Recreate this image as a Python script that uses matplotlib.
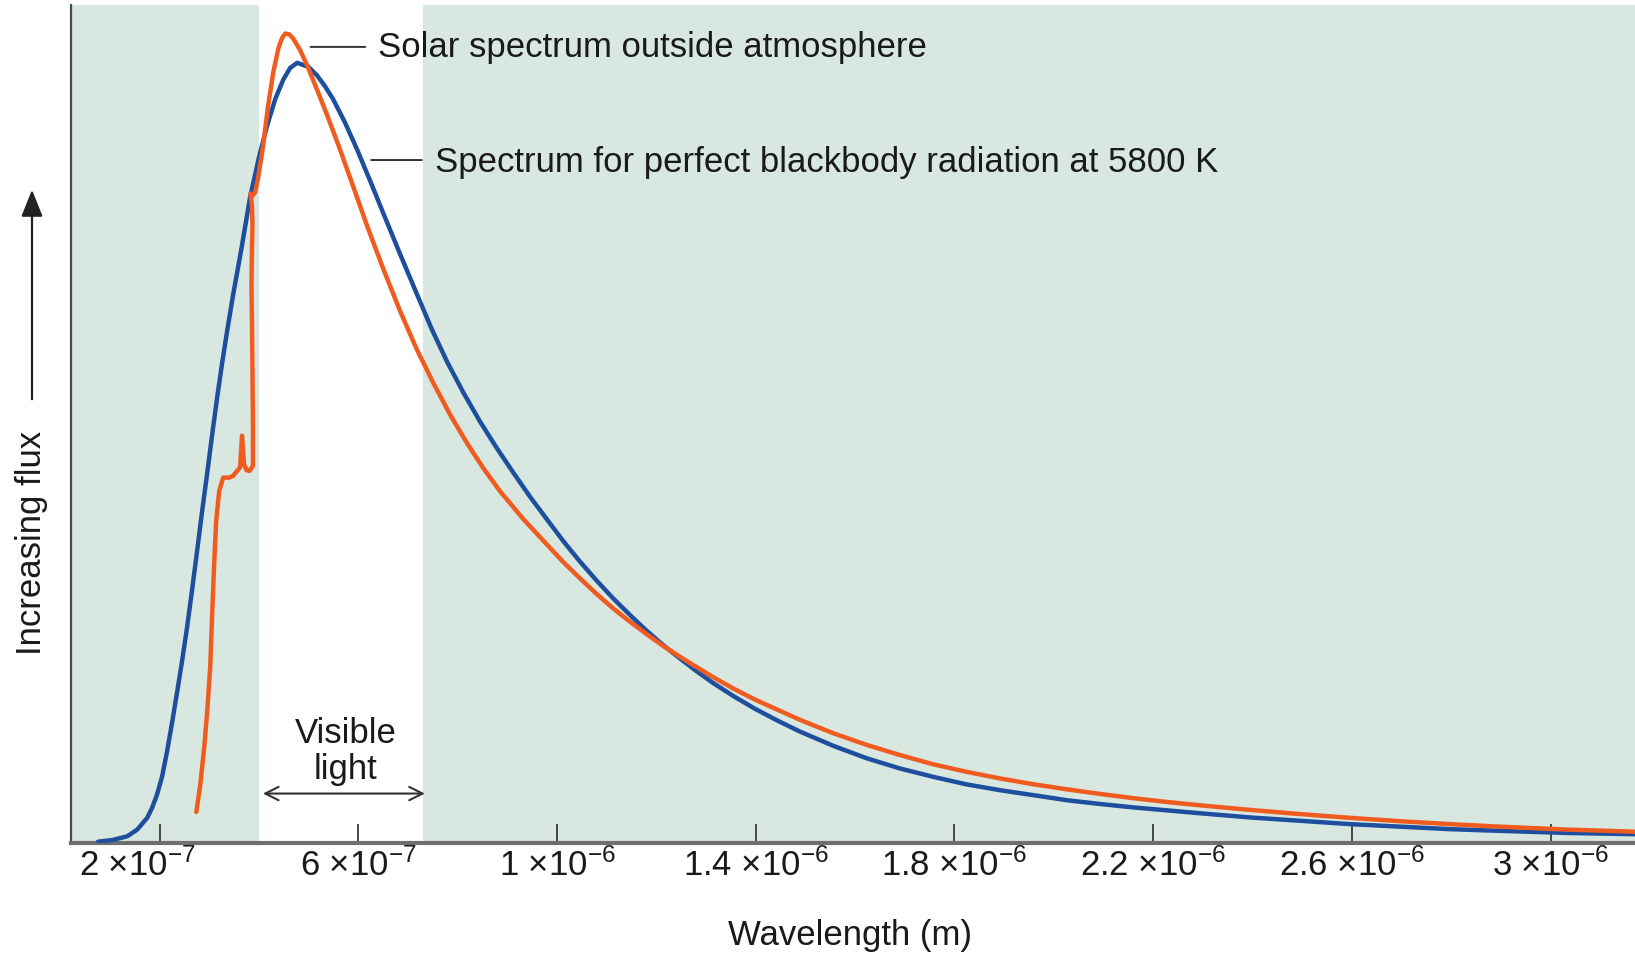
import matplotlib
matplotlib.use("Agg")
import matplotlib.pyplot as plt
from matplotlib.transforms import ScaledTranslation

plt.rcParams['font.family'] = ['Liberation Sans', 'DejaVu Sans']
plt.rcParams['mathtext.fontset'] = 'custom'
plt.rcParams['mathtext.rm'] = 'Liberation Sans'
plt.rcParams['mathtext.it'] = 'Liberation Sans:italic'
plt.rcParams['mathtext.bf'] = 'Liberation Sans:bold'

# ---------------- data (wavelength in units of 1e-7 m, flux in relative units) ----
blackbody_wl = [0.76, 1.05, 1.35, 1.55, 1.75, 1.85, 1.95, 2.05, 2.15, 2.25, 2.35, 2.45,
                2.55, 2.65, 2.75, 2.85, 2.96, 3.06, 3.16, 3.26, 3.36, 3.48, 3.65,
                3.82, 4.00, 4.16, 4.33, 4.49, 4.63, 4.77, 5.00, 5.17, 5.33, 5.49,
                5.73, 5.98, 6.24, 6.50, 6.84, 7.18, 7.48, 7.79, 8.12, 8.45, 8.78,
                9.12, 9.46, 9.80, 10.13, 10.46, 10.80, 11.13, 11.47, 11.81, 12.14,
                12.48, 12.81, 13.14, 13.56, 13.99, 14.44, 14.89, 15.56, 16.24,
                16.90, 17.57, 18.24, 18.92, 19.60, 20.27, 20.94, 21.60, 22.27,
                22.94, 23.95, 24.96, 25.97, 26.97, 27.98, 28.98, 30.33, 31.70]
blackbody_flux = [0.15, 0.35, 0.8, 1.6, 3.0, 4.2, 5.8, 7.9, 10.9, 14.3, 17.9, 21.6,
                  25.6, 30.0, 34.6, 39.3, 44.2, 48.8, 53.2, 57.3, 61.1, 65.4, 71.0,
                  77.0, 81.8, 85.5, 88.8, 91.1, 92.5, 93.1, 92.6, 91.6, 90.3, 88.8,
                  86.0, 82.7, 79.0, 75.2, 70.3, 65.5, 61.3, 57.4, 53.7, 50.3, 47.2,
                  44.2, 41.3, 38.6, 36.0, 33.6, 31.3, 29.2, 27.2, 25.3, 23.6,
                  22.0, 20.5, 19.1, 17.5, 16.0, 14.6, 13.3, 11.6, 10.1,
                  8.9, 7.9, 7.0, 6.3, 5.7, 5.1, 4.65, 4.25, 3.9,
                  3.55, 3.05, 2.65, 2.25, 1.95, 1.65, 1.45, 1.2, 1.05]

solar_wl = [2.74, 2.82, 2.90, 2.96, 3.02, 3.06, 3.10, 3.14, 3.20, 3.28, 3.40,
            3.48, 3.56, 3.62, 3.66, 3.70, 3.75, 3.81, 3.88, 3.88, 3.87, 3.86,
            3.85, 3.86, 3.87, 3.86, 3.83, 3.86, 3.92, 3.98, 4.08, 4.18, 4.29,
            4.39, 4.46, 4.53, 4.61, 4.69, 4.83, 4.97, 5.17, 5.37, 5.63, 5.90,
            6.18, 6.51, 6.84, 7.17, 7.51, 7.85, 8.19, 8.52, 8.85, 9.33, 9.80,
            10.13, 10.46, 10.80, 11.13, 11.47, 11.81, 12.14, 12.48, 12.81, 13.14,
            13.56, 13.99, 14.44, 14.89, 15.56, 16.24, 16.90, 17.57, 18.24, 18.92,
            19.60, 20.27, 20.94, 21.60, 22.27, 22.94, 23.95, 24.96, 25.97, 26.97,
            27.98, 28.98, 30.33, 31.70]
solar_flux = [3.7, 7.0, 11.5, 15.8, 21.1, 27.5, 33.5, 38.5, 42.0, 43.6, 43.6,
              43.8, 44.4, 44.8, 48.6, 45.2, 44.5, 44.4, 45.0, 50.0, 56.0, 62.0,
              66.5, 70.9, 74.0, 76.0, 77.5, 77.2, 77.6, 79.2, 83.0, 87.8, 92.0,
              94.8, 96.0, 96.6, 96.5, 96.0, 94.6, 92.8, 89.9, 86.9, 82.8, 78.3,
              73.6, 68.4, 63.5, 59.0, 54.9, 51.1, 47.7, 44.7, 42.0, 38.6, 35.6,
              33.5, 31.6, 29.7, 28.0, 26.4, 24.9, 23.5, 22.2, 21.0, 19.8,
              18.4, 17.1, 15.9, 14.7, 13.1, 11.7, 10.5, 9.4, 8.5, 7.7,
              7.0, 6.4, 5.85, 5.35, 4.9, 4.5, 3.95, 3.45, 3.0, 2.6,
              2.25, 1.95, 1.6, 1.35]

visible_range = [4.0, 7.3]          # 1e-7 m
tick_values = [2, 6, 10, 14, 18, 22, 26, 30]   # 1e-7 m
tick_labels = ["2 ×10$^{-7}$", "6 ×10$^{-7}$", "1 ×10$^{-6}$", "1.4 ×10$^{-6}$",
               "1.8 ×10$^{-6}$", "2.2 ×10$^{-6}$", "2.6 ×10$^{-6}$", "3 ×10$^{-6}$"]
SCALE = 1e-7

solar_label = "Solar spectrum outside atmosphere"
bb_label = "Spectrum for perfect blackbody radiation at 5800 K"

# ---------------- figure ----------------
W, H = 1635, 954
fig = plt.figure(figsize=(W / 100, H / 100), dpi=100)
ax = fig.add_axes([71 / W, (H - 844) / H, (W - 71) / W, (844 - 6) / H])

GREEN = '#d8e7df'
BLUE = '#1d4f9e'
ORANGE = '#f05c20'

ax.set_facecolor(GREEN)
ax.axvspan(visible_range[0] * SCALE, visible_range[1] * SCALE, color='white',
           lw=0, zorder=0)

ax.plot([w * SCALE for w in blackbody_wl], blackbody_flux, color=BLUE, lw=3.2,
        solid_capstyle='round', solid_joinstyle='round', zorder=3)
ax.plot([w * SCALE for w in solar_wl], solar_flux, color=ORANGE, lw=3.2,
        solid_capstyle='round', solid_joinstyle='round', zorder=4)

ax.set_xlim(0.217 * SCALE, 31.70 * SCALE)
ax.set_ylim(0, 100)

for s in ['top', 'right']:
    ax.spines[s].set_visible(False)
ax.spines['left'].set_color('#4d4d4d')
ax.spines['left'].set_linewidth(1.6)
ax.spines['bottom'].set_color('#6f6f6f')
ax.spines['bottom'].set_linewidth(3.0)

ax.set_xticks([t * SCALE for t in tick_values])
ax.set_xticklabels(tick_labels)
ax.set_yticks([])
ax.tick_params(axis='x', direction='in', length=14, width=1.3, color='#3a3a3a',
               pad=3, labelsize=25, labelcolor='#1a1a1a')
# the first label sits a little left of its tick in the original
first = ax.get_xticklabels()[0]
first.set_transform(first.get_transform() +
                    ScaledTranslation(-0.22, 0, fig.dpi_scale_trans))

TXT = '#1a1a1a'
FS = 25

# label connectors
ax.annotate('', xy=(5.04 * SCALE, 95.0), xytext=(6.14 * SCALE, 95.0),
            arrowprops=dict(arrowstyle='-', color='#333333', lw=1.4,
                            shrinkA=0, shrinkB=0))
ax.text(6.40 * SCALE, 93.9, solar_label, fontsize=FS, color=TXT,
        ha='left', va='baseline')

ax.annotate('', xy=(6.26 * SCALE, 81.5), xytext=(7.28 * SCALE, 81.5),
            arrowprops=dict(arrowstyle='-', color='#333333', lw=1.4,
                            shrinkA=0, shrinkB=0))
ax.text(7.54 * SCALE, 80.2, bb_label, fontsize=FS, color=TXT,
        ha='left', va='baseline')

# visible light
mid = 5.75
ax.text(mid * SCALE, 12.0, "Visible", fontsize=FS, color=TXT, ha='center',
        va='baseline')
ax.text(mid * SCALE, 7.8, "light", fontsize=FS, color=TXT, ha='center',
        va='baseline')
ax.annotate('', xy=(4.08 * SCALE, 5.9), xytext=(7.34 * SCALE, 5.9),
            arrowprops=dict(arrowstyle='<->', color='#333333', lw=1.5,
                            mutation_scale=24, shrinkA=0, shrinkB=0))

# axis labels
fig.text(850 / W, (H - 936) / H, "Wavelength (m)", fontsize=FS, color=TXT,
         ha='center', va='center')
fig.text(31 / W, (H - 543) / H, "Increasing flux", fontsize=FS, color=TXT,
         ha='center', va='center', rotation=90)
fig.add_artist(matplotlib.patches.FancyArrowPatch(
    (32 / W, (H - 403) / H), (32 / W, (H - 188) / H),
    transform=fig.transFigure, arrowstyle='-|>,head_length=0.55,head_width=0.22',
    mutation_scale=30, color='#222222', lw=1.6))

fig.savefig('out.png', dpi=100, facecolor='white')
